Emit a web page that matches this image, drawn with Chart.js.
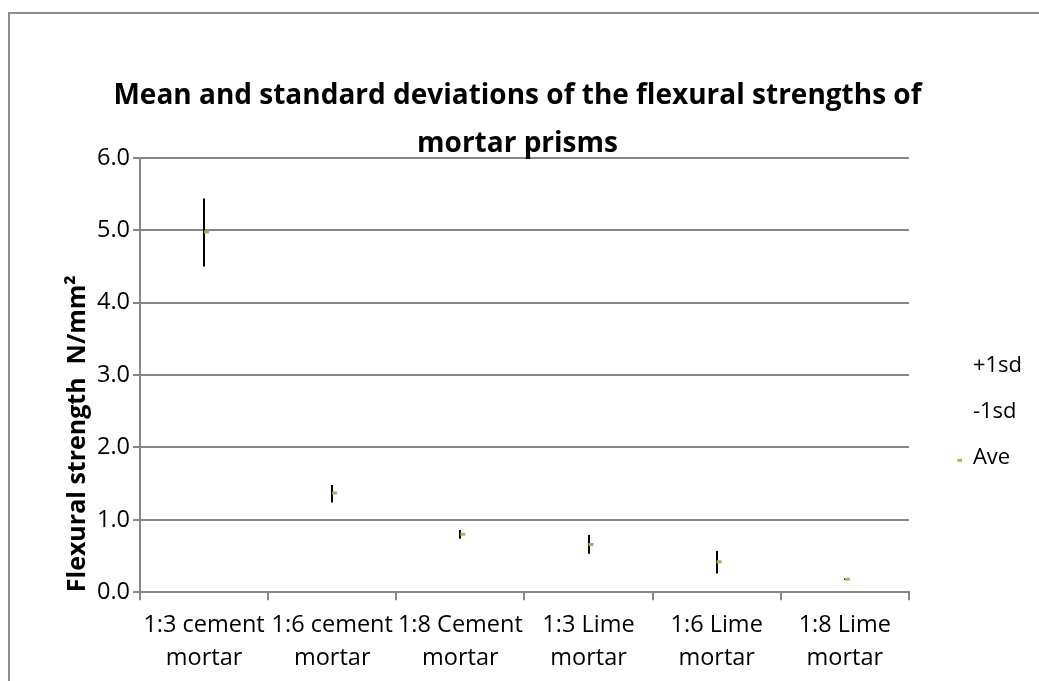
<!DOCTYPE html>
<html>
<head>
<meta charset="utf-8">
<script src="https://cdn.jsdelivr.net/npm/chart.js@4.4.0/dist/chart.umd.min.js"></script>
<style>
  body { margin: 0; background: #fff; }
  #wrap { position: absolute; left: 0; top: 0; width: 1039px; height: 681px; }
</style>
</head>
<body>
<div id="wrap"><canvas id="myChart" width="1039" height="681"></canvas></div>
<script>
const categories = [
  ['1:3 cement', 'mortar'],
  ['1:6 cement', 'mortar'],
  ['1:8 Cement', 'mortar'],
  ['1:3 Lime', 'mortar'],
  ['1:6 Lime', 'mortar'],
  ['1:8 Lime', 'mortar']
];
const plus1sd  = [5.44, 1.48, 0.86, 0.79, 0.57, 0.19];
const minus1sd = [4.50, 1.24, 0.74, 0.53, 0.26, 0.17];
const ave      = [4.98, 1.37, 0.80, 0.66, 0.42, 0.18];
const yTicks   = [0, 1, 2, 3, 4, 5, 6];

const FONT = '"Open Sans", sans-serif';
const GREEN = '#9bbb59';

// legend swatches: blank for the sd series, short green dash for Ave
function swatch(withDash) {
  const cv = document.createElement('canvas');
  cv.width = 30; cv.height = 9;
  if (withDash) {
    const c = cv.getContext('2d');
    c.fillStyle = GREEN;
    c.fillRect(25, 5, 5, 3);
  }
  return cv;
}
const blankMark = swatch(false);
const aveMark = swatch(true);

// outer frame of the chart object (only left/top edges show)
const framePlugin = {
  id: 'frame',
  beforeDraw(chart) {
    const c = chart.ctx;
    c.save();
    c.strokeStyle = '#8c8c8c';
    c.lineWidth = 2;
    c.beginPath();
    c.moveTo(9, 681);
    c.lineTo(9, 13);
    c.lineTo(1039, 13);
    c.stroke();
    c.restore();
  }
};

// high-low lines between +1sd and -1sd
const hiLoPlugin = {
  id: 'hilo',
  beforeDatasetsDraw(chart) {
    const c = chart.ctx;
    const x = chart.scales.x, y = chart.scales.y;
    c.save();
    c.strokeStyle = '#000';
    c.lineWidth = 2;
    plus1sd.forEach((hi, i) => {
      const px = Math.round(x.getPixelForValue(i));
      c.beginPath();
      c.moveTo(px, y.getPixelForValue(hi));
      c.lineTo(px, y.getPixelForValue(minus1sd[i]));
      c.stroke();
    });
    c.restore();
  }
};

const ctx = document.getElementById('myChart').getContext('2d');
const chart = new Chart(ctx, {
  type: 'line',
  data: {
    labels: categories,
    datasets: [
      { label: '+1sd', data: plus1sd, showLine: false, pointRadius: 0,
        borderColor: 'rgba(0,0,0,0)', backgroundColor: 'rgba(0,0,0,0)' },
      { label: '-1sd', data: minus1sd, showLine: false, pointRadius: 0,
        borderColor: 'rgba(0,0,0,0)', backgroundColor: 'rgba(0,0,0,0)' },
      { label: 'Ave', data: ave, showLine: false, pointStyle: 'dash', pointRadius: 5,
        pointBorderWidth: 3, borderColor: GREEN, backgroundColor: GREEN }
    ]
  },
  options: {
    responsive: false,
    animation: false,
    layout: { padding: { left: 3, right: 7, top: 73, bottom: -3 } },
    plugins: {
      title: {
        display: true,
        text: ['Mean and standard deviations of the flexural strengths of', 'mortar prisms'],
        color: '#000',
        font: { family: FONT, size: 28, weight: 'bold', lineHeight: 1.68 },
        padding: { top: 0, bottom: -9 }
      },
      legend: {
        position: 'right',
        title: { display: true, text: '', font: { size: 12 }, padding: { top: 53, bottom: 0 } },
        labels: {
          color: '#000',
          font: { family: FONT, size: 22 },
          usePointStyle: true,
          pointStyleWidth: 29,
          boxHeight: 9,
          padding: 24,
          generateLabels(chart) {
            const items = Chart.defaults.plugins.legend.labels.generateLabels(chart);
            items.forEach(it => { it.pointStyle = it.text === 'Ave' ? aveMark : blankMark; });
            return items;
          }
        }
      },
      tooltip: { enabled: false }
    },
    scales: {
      x: {
        offset: true,
        grid: { offset: true, drawOnChartArea: false, drawTicks: true, tickLength: 8, color: '#868686', lineWidth: 2 },
        border: { color: '#868686', width: 2 },
        ticks: { color: '#000', font: { family: FONT, size: 23.5, lineHeight: 1.4 }, maxRotation: 0, padding: 9 }
      },
      y: {
        min: 0,
        max: 6,
        afterBuildTicks(scale) { scale.ticks = yTicks.map(v => ({ value: v })); },
        afterFit(scale) { scale.width = 137; },
        grid: { color: '#868686', lineWidth: 2, tickLength: 7 },
        border: { color: '#868686', width: 2 },
        ticks: { color: '#000', font: { family: FONT, size: 23.5 }, padding: 3,
                 callback: v => v.toFixed(1) },
        title: {
          display: true,
          align: 'start',
          text: 'Flexural strength  N/mm²',
          color: '#000',
          font: { family: FONT, size: 25, weight: 'bold' },
          padding: { top: 60 }
        }
      }
    }
  },
  plugins: [framePlugin, hiLoPlugin]
});
</script>
</body>
</html>
